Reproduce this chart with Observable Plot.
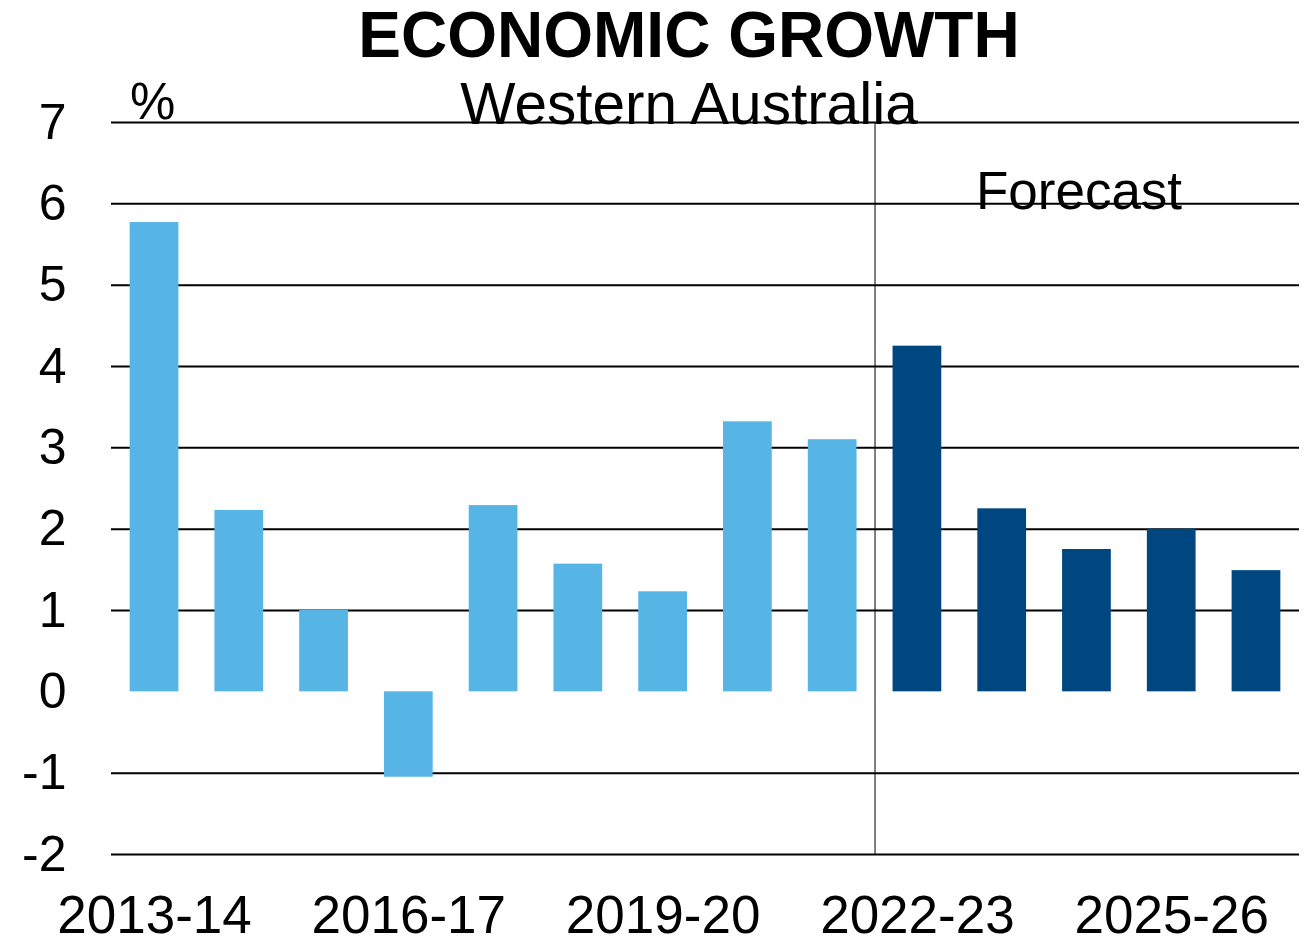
<!DOCTYPE html>
<html><head><meta charset="utf-8">
<script src="https://cdn.jsdelivr.net/npm/d3@7"></script>
<script src="https://cdn.jsdelivr.net/npm/@observablehq/plot@0.6"></script>
<style>
body{margin:0;background:#fff;font-family:"Liberation Sans",Arial,sans-serif;}
#wrap{position:relative;width:1309px;height:938px;}
.ann{position:absolute;white-space:nowrap;line-height:1;color:#000;}
</style></head><body>
<div id="wrap"></div>
<script>
const years = ["2013-14","2014-15","2015-16","2016-17","2017-18","2018-19","2019-20","2020-21","2021-22","2022-23","2023-24","2024-25","2025-26","2026-27"];
const growth = [5.77, 2.23, 1.0, -1.05, 2.29, 1.57, 1.23, 3.32, 3.1, 4.25, 2.25, 1.75, 2.0, 1.49];
const forecastStart = 9;
const xTickLabels = ["2013-14","2016-17","2019-20","2022-23","2025-26"];
const yTickValues = [-2,-1,0,1,2,3,4,5,6,7];
const gridValues = yTickValues.filter(d => d !== 0);
const colorActual = "#56B5E5";
const colorForecast = "#00477F";

const data = years.map((y, i) => ({year: y, value: growth[i], kind: i >= forecastStart ? "Forecast" : "Actual"}));

const chart = Plot.plot({
  width: 1309,
  height: 938,
  marginTop: 122,
  marginBottom: 84,
  marginLeft: 111,
  marginRight: 10,
  style: {fontFamily: "'Liberation Sans', Arial, sans-serif", background: "#fff", color: "#000", overflow: "visible"},
  x: {domain: years, paddingInner: 0.425, paddingOuter: 0.22, round: false, label: null},
  y: {domain: [-2, 7], label: null},
  color: {domain: ["Actual", "Forecast"], range: [colorActual, colorForecast]},
  marks: [
    Plot.ruleY(gridValues, {stroke: "#000", strokeWidth: 2}),
    Plot.ruleX([years[forecastStart]], {dx: -42.4, y1: -2, y2: 7, stroke: "#000", strokeWidth: 1}),
    Plot.barY(data, {x: "year", y: "value", fill: "kind"}),
    Plot.axisY(yTickValues, {tickSize: 0, tickPadding: 45, fontSize: 50, tickFormat: d => String(d), fill: "#000"}),
    Plot.axisX(xTickLabels, {tickSize: 0, tickPadding: 41, fontSize: 53, fill: "#000"})
  ]
});

const wrap = document.getElementById("wrap");
wrap.appendChild(chart);

function ann(text, opts) {
  const d = document.createElement("div");
  d.className = "ann";
  d.textContent = text;
  Object.assign(d.style, opts);
  wrap.appendChild(d);
}
ann("ECONOMIC GROWTH", {left: "0px", width: "1378px", textAlign: "center", top: "3px", fontSize: "64px", fontWeight: "bold"});
ann("Western Australia", {left: "0px", width: "1378px", textAlign: "center", top: "75px", fontSize: "58.5px"});
ann("%", {left: "130px", top: "76px", fontSize: "51px"});
ann("Forecast", {left: "879px", width: "400px", textAlign: "center", top: "164px", fontSize: "53px"});
</script>
</body></html>
